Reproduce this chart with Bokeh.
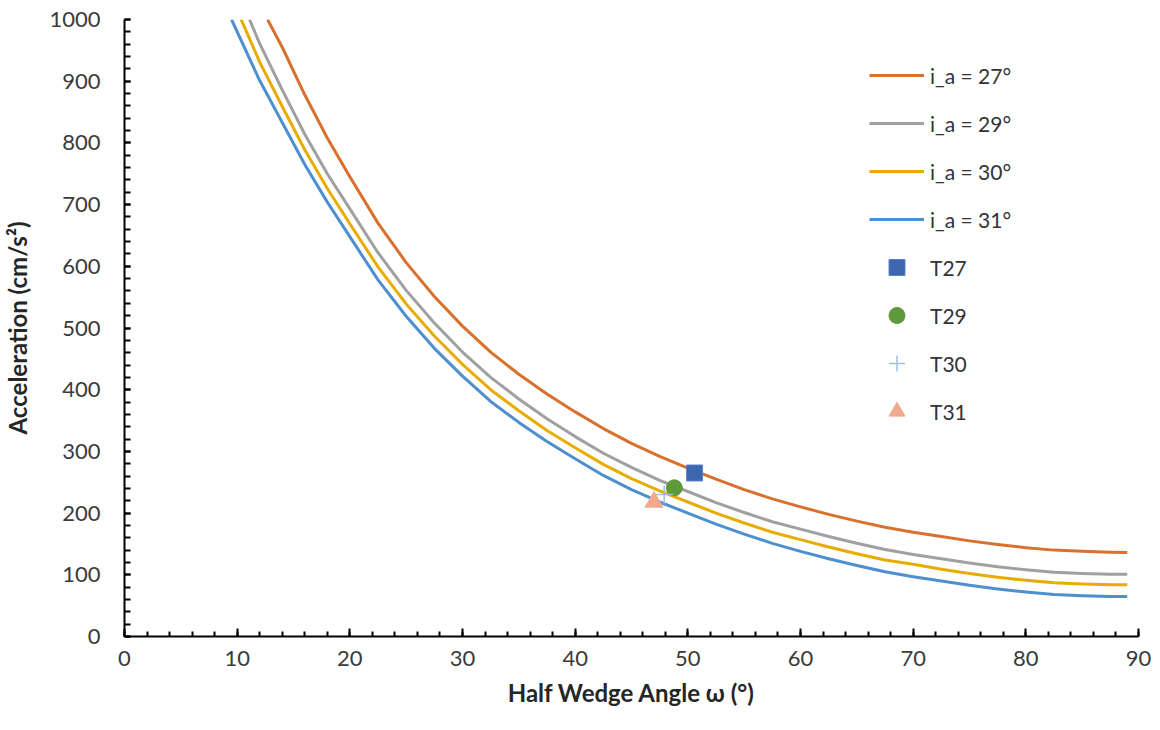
from bokeh.plotting import figure
from bokeh.embed import file_html
from bokeh.resources import INLINE
from bokeh.models import Legend, LegendItem, FixedTicker

# ---- data (half wedge angle in degrees, acceleration in cm/s²) ----
w27 = [12.7, 14, 16, 18, 20, 22.5, 25, 27.5, 30, 32.5, 35, 37.5, 40, 42.5, 45, 47.5, 50,
       52.5, 55, 57.5, 60, 62.5, 65, 67.5, 70, 72.5, 75, 77.5, 80, 82.5, 85, 87.5, 89]
a27 = [1000, 955, 878, 808, 745, 670, 606, 551, 503, 461, 425, 393, 364, 337, 313, 292, 273,
       255, 238, 223, 210, 198, 187, 177, 169, 162, 155, 149, 144, 140, 138, 136.5, 136]

w29 = [11.1, 12, 14, 16, 18, 20, 22.5, 25, 27.5, 30, 32.5, 35, 37.5, 40, 42.5, 45, 47.5, 50,
       52.5, 55, 57.5, 60, 62.5, 65, 67.5, 70, 72.5, 75, 77.5, 80, 82.5, 85, 87.5, 89]
a29 = [1000, 961, 886, 814, 750, 693, 622, 561, 508, 461, 420, 385, 353, 324, 297, 274, 253, 235,
       217, 201, 186, 174, 162, 151, 141, 133, 126, 119, 113, 108, 104, 102, 101, 101]

w30 = [10.35, 12, 14, 16, 18, 20, 22.5, 25, 27.5, 30, 32.5, 35, 37.5, 40, 42.5, 45, 47.5, 50,
       52.5, 55, 57.5, 60, 62.5, 65, 67.5, 70, 72.5, 75, 77.5, 80, 82.5, 85, 87.5, 89]
a30 = [1000, 931, 859, 789, 726, 669, 599, 539, 487, 441, 400, 366, 334, 306, 279, 256, 236, 218,
       200, 184, 169, 157, 145, 134, 124, 117, 109, 102, 96, 91, 87, 85, 84, 84]

w31 = [9.5, 12, 14, 16, 18, 20, 22.5, 25, 27.5, 30, 32.5, 35, 37.5, 40, 42.5, 45, 47.5, 50,
       52.5, 55, 57.5, 60, 62.5, 65, 67.5, 70, 72.5, 75, 77.5, 80, 82.5, 85, 87.5, 89]
a31 = [1000, 901, 833, 765, 704, 648, 578, 519, 467, 422, 381, 347, 316, 288, 261, 238, 218, 200,
       182, 166, 151, 138, 126, 115, 105, 97, 90, 83, 77, 72, 68, 66, 65, 65]

t27_x, t27_y = [50.6], [265]
t29_x, t29_y = [48.8], [241]
t30_x, t30_y = [47.9], [230]
t31_x, t31_y = [47.0], [218]

line_labels = ["i_a = 27°", "i_a = 29°", "i_a = 30°", "i_a = 31°"]
point_labels = ["T27", "T29", "T30", "T31"]

FONT = "Lato"

p = figure(width=1152, height=714, x_range=(0, 90), y_range=(0, 1000),
           output_backend="svg", toolbar_location=None,
           min_border_left=124, min_border_right=14, min_border_top=19, min_border_bottom=78)
p.outline_line_color = None
p.xgrid.visible = False
p.ygrid.visible = False

r27 = p.line(w27, a27, line_color="#D9702E", line_width=3, line_join="round")
r29 = p.line(w29, a29, line_color="#A0A0A0", line_width=3, line_join="round")
r30 = p.line(w30, a30, line_color="#E8AC00", line_width=3, line_join="round")
r31 = p.line(w31, a31, line_color="#4E8FCF", line_width=3, line_join="round")

m27 = p.scatter(t27_x, t27_y, marker="square", size=16, fill_color="#3D66B0", line_color="#5B82C8", line_width=1)
m29 = p.scatter(t29_x, t29_y, marker="circle", size=16, fill_color="#5E9A3C", line_color="#5E9A3C")
m30 = p.scatter(t30_x, t30_y, marker="cross", size=18, line_color="#9DC0E6", line_width=1.5)
m31 = p.scatter(t31_x, t31_y, marker="triangle", size=18, fill_color="#F2A98C", line_color="#F2A98C")

items = [LegendItem(label=l, renderers=[r]) for l, r in zip(line_labels, [r27, r29, r30, r31])]
items += [LegendItem(label=l, renderers=[r]) for l, r in zip(point_labels, [m27, m29, m30, m31])]
legend = Legend(items=items, location=(745, 205), border_line_color=None,
                background_fill_alpha=0, glyph_width=55, glyph_height=40,
                label_height=40, spacing=8, padding=10, label_standoff=6,
                label_text_font=FONT, label_text_font_size="21px", label_text_color="#333333")
p.add_layout(legend)

for ax in (p.xaxis[0], p.yaxis[0]):
    ax.axis_line_color = "black"
    ax.axis_line_width = 2
    ax.major_tick_line_color = "black"
    ax.minor_tick_line_color = "black"
    ax.major_tick_line_width = 2
    ax.minor_tick_line_width = 2
    ax.major_tick_out = 0
    ax.minor_tick_out = 0
    ax.major_label_text_font = FONT
    ax.major_label_text_font_size = "22px"
    ax.major_label_text_color = "#3a3a3a"
    ax.axis_label_text_font = FONT
    ax.axis_label_text_font_style = "bold"
    ax.axis_label_text_font_size = "24px"
    ax.axis_label_text_color = "#262626"

p.xaxis.ticker = FixedTicker(ticks=list(range(0, 91, 10)), minor_ticks=list(range(0, 91, 2)))
p.yaxis.ticker = FixedTicker(ticks=list(range(0, 1001, 100)), minor_ticks=list(range(0, 1001, 20)))
p.xaxis.major_tick_in = 8
p.xaxis.minor_tick_in = 5
p.yaxis.major_tick_in = 6
p.yaxis.minor_tick_in = 6
p.xaxis.major_label_standoff = 14
p.yaxis.major_label_standoff = 24
p.xaxis.axis_label = "Half Wedge Angle ω (°)"
p.yaxis.axis_label = "Acceleration (cm/s²)"
p.xaxis.axis_label_standoff = 9
p.yaxis.axis_label_standoff = 14

open("out.html", "w").write(file_html(p, INLINE))
